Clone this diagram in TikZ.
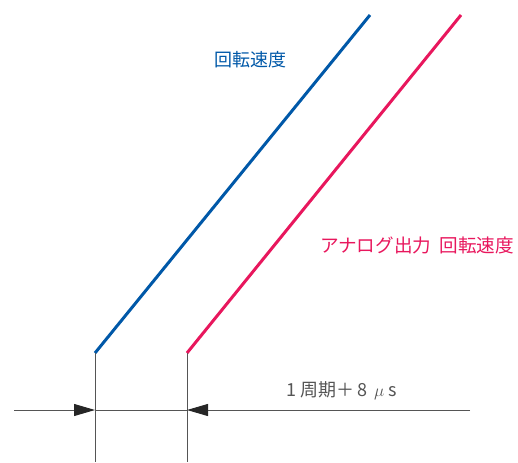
\documentclass[tikz,border=0pt]{standalone}
\usepackage{fontspec}
\setmainfont{Noto Sans CJK JP}
\usetikzlibrary{arrows.meta}
\definecolor{speedblue}{HTML}{0058A8}
\definecolor{analogred}{HTML}{E8175D}
\definecolor{dimgray}{HTML}{555555}

\begin{document}
\begin{tikzpicture}[x=1pt, y=-1pt,
    speed/.style={line width=3pt},
    dimline/.style={dimgray, line width=0.9pt},
    dimarrow/.style={dimgray, line width=0.9pt, -{Triangle[length=21pt,width=12pt,black!85]}},
    lbl/.style={font=\fontsize{18}{20}\selectfont, inner sep=0pt}]
      \useasboundingbox (0,0) rectangle (518,462);
      % ramp lines
      \coordinate (b0) at (95,353);
      \coordinate (b1) at (370,15);
      \coordinate (r0) at (187,353);
      \coordinate (r1) at (461,15);
      \draw [speed, speedblue] (b0) -- (b1);
      \draw [speed, analogred] (r0) -- (r1);
      \node [lbl, text=speedblue] (speedlbl) at (250,60) {回転速度};
      \node [lbl, text=analogred, font=\fontsize{18.6}{20}\selectfont] (analoglbl) at (417,245) {アナログ出力\hspace{0.45em}回転速度};
      % dimension
      \coordinate (b2) at (95,462);
      \coordinate (r2) at (187,462);
      \coordinate (dl) at (14,410);
      \coordinate (dr) at (470,410);
      \coordinate (db) at (95,410);
      \coordinate (dd) at (187,410);
      \draw [dimline] (b0) -- (b2);
      \draw [dimline] (r0) -- (r2);
      \draw [dimline] (db) -- (dd);
      \draw [dimarrow] (dl) -- (db);
      \draw [dimarrow] (dr) -- (dd);
      \node [lbl, text=dimgray] (period) at (342,391) {1\hspace{0.2em}周期＋\hspace{0.2em}8\hspace{0.35em}$\mu$\hspace{0.25em}s};
\end{tikzpicture}
\end{document}
